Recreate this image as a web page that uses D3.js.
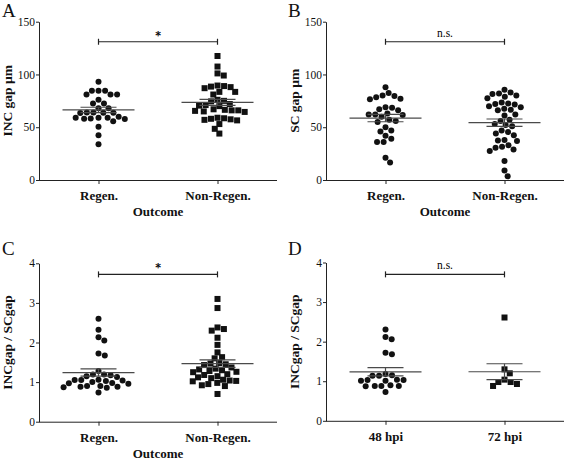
<!DOCTYPE html>
<html>
<head>
<meta charset="utf-8">
<script src="https://cdn.jsdelivr.net/npm/d3@7"></script>
<style>
  html, body { margin: 0; padding: 0; background: #fff; }
  svg { display: block; font-family: "Liberation Serif", "Times New Roman", serif; }
  .sig { font-variant-emoji: text; }
</style>
</head>
<body>
<svg id="chart" width="567" height="461"></svg>
<script>
// ---------- data ----------
const catsOutcome = ["Regen.", "Non-Regen."];
const catsTime = ["48 hpi", "72 hpi"];

const incRegen = [93, 84.6, 84.6, 84.6, 81, 81, 81, 76, 72.5, 72.5, 68, 68,
  64, 63.7, 63.5, 63.7, 64, 59, 59, 58, 57.7, 58.3, 59, 60, 55.6, 50.5, 42.3, 33.8];
const incNonRegen = [117.5, 107.5, 101, 99, 89.5, 89, 88.5, 88, 87, 83.5, 83.5, 81,
  76, 75, 74.5, 72, 71, 70.5, 70, 67, 66.5, 66, 66, 65.5, 65, 64.5,
  59, 58.5, 58, 57.5, 57, 56.5, 53, 48.5, 44];

const scRegen = [88, 82.5, 80, 79.5, 78.5, 77, 76.5, 69, 68.5, 67, 66,
  63, 62, 62, 61.5, 60, 57, 56, 55, 50, 47, 46, 42, 39, 36, 36, 21, 16.5];
const scNonRegen = [85.5, 83, 82, 81.5, 80, 79, 77.5, 73.5, 72.5, 72, 71.5, 70, 69,
  67.5, 66.5, 66, 62, 61, 57, 56, 53, 52, 51, 47, 45.5, 44, 42.5,
  38, 37.5, 37, 33, 31.5, 30.5, 29, 27.5, 18, 9, 3.5];

const ratioRegen = [2.6, 2.32, 2.13, 2.05, 1.72, 1.67, 1.28, 1.19, 1.17, 1.13, 1.15, 1.19,
  1.05, 1.04, 1.0, 0.98, 0.96, 0.97, 1.03, 1.05, 1.06, 0.87, 0.9, 0.86, 0.88, 0.9, 0.88, 0.74];
const ratioNonRegen = [3.1, 2.87, 2.38, 2.34, 2.3, 2.12, 1.94, 1.75, 1.63, 1.6,
  1.48, 1.47, 1.45, 1.43, 1.37, 1.34, 1.32, 1.3, 1.28, 1.26, 1.25,
  1.2, 1.18, 1.15, 1.12, 1.1, 1.06, 1.04, 1.03, 1.02, 0.98, 0.95, 0.92, 0.9, 0.7];

const ratio48 = [2.31, 2.06, 2.12, 1.72, 1.68, 1.14, 1.14, 1.15, 1.18,
  1.03, 1.01, 1.01, 1.03, 1.04, 0.88, 0.88, 0.9, 0.88, 0.87, 0.73];
const ratio72 = [2.61, 1.3, 1.2, 1.04, 0.98, 0.98, 0.88, 0.93];

const ticksGap = [0, 50, 100, 150];
const ticksRatio = [0, 1, 2, 3, 4];
const panelLetters = ["A", "B", "C", "D"];
const yLabels = ["INC gap \u00b5m", "SC gap \u00b5m", "INCgap / SCgap", "INCgap / SCgap"];
const sigLabels = ["*", "n.s.", "*", "n.s."];
const sigLevels = [131, 131, 3.72, 3.7];

// ---------- layout ----------
const FONT = "'Liberation Serif', 'Times New Roman', serif";
const panels = [
  { frame: [39, 277, 21.7, 180], lx: 2, ly: 17, max: 150, ticks: ticksGap, cats: catsOutcome,
    groups: [incRegen, incNonRegen], shapes: ["circle", "square"], xTitle: "Outcome" },
  { frame: [326, 564, 21.7, 180], lx: 288, ly: 17, max: 150, ticks: ticksGap, cats: catsOutcome,
    groups: [scRegen, scNonRegen], shapes: ["circle", "circle"], xTitle: "Outcome" },
  { frame: [39, 277, 263.3, 421.7], lx: 2, ly: 255, max: 4, ticks: ticksRatio, cats: catsOutcome,
    groups: [ratioRegen, ratioNonRegen], shapes: ["circle", "square"], xTitle: "Outcome" },
  { frame: [326, 564, 262.5, 420.8], lx: 288, ly: 255, max: 4, ticks: ticksRatio, cats: catsTime,
    groups: [ratio48, ratio72], shapes: ["circle", "square"], xTitle: null }
];

const svg = d3.select("#chart");
const ink = "#111";
const meanCol = "#4a4a4a";
const D = 6.6; // swarm spacing

function swarm(values, y) {
  const pts = values.map(v => ({ v, py: y(v) })).sort((a, b) => a.py - b.py);
  const placed = [];
  pts.forEach(p => {
    const near = placed.filter(q => Math.abs(q.py - p.py) < D);
    const cands = [0];
    near.forEach(q => {
      const dx = Math.sqrt(D * D - (q.py - p.py) ** 2);
      cands.push(q.dx + dx, q.dx - dx);
    });
    cands.sort((a, b) => Math.abs(a) - Math.abs(b) || b - a);
    for (const c of cands) {
      const ok = near.every(q => Math.hypot(q.dx - c, q.py - p.py) >= D - 1e-6);
      if (ok) { p.dx = c; break; }
    }
    placed.push(p);
  });
  return placed;
}

panels.forEach((P, i) => {
  const [l, r, t, b] = P.frame;
  const g = svg.append("g").attr("font-family", FONT);
  const y = d3.scaleLinear().domain([0, P.max]).range([b, t]);
  const x = d3.scalePoint().domain(P.cats).range([l, r]).padding(0.5);

  // panel letter
  g.append("text").attr("x", P.lx).attr("y", P.ly).attr("font-size", 19)
    .attr("fill", ink).text(panelLetters[i]);

  // y axis
  const ya = g.append("g").attr("transform", `translate(${l},0)`)
    .call(d3.axisLeft(y).tickValues(P.ticks).tickFormat(d3.format("d"))
      .tickSize(3).tickSizeOuter(0).tickPadding(1));
  ya.attr("font-family", FONT).attr("font-size", 11.5);
  ya.selectAll("path,line").attr("stroke", "#222");
  ya.selectAll("text").attr("fill", ink);

  // x axis
  const xa = g.append("g").attr("transform", `translate(0,${b})`)
    .call(d3.axisBottom(x).tickSize(4).tickSizeOuter(0).tickPadding(7));
  xa.attr("font-family", FONT).attr("font-size", 13).attr("font-weight", "bold");
  xa.select(".domain").attr("d", `M${l},0.5H${r}`);
  xa.selectAll("path,line").attr("stroke", "#222");
  xa.selectAll("text").attr("fill", ink);

  // y label
  g.append("text")
    .attr("transform", `translate(${l - 27},${(t + b) / 2}) rotate(-90)`)
    .attr("text-anchor", "middle").attr("font-size", 13.5).attr("font-weight", "bold")
    .attr("fill", ink).text(yLabels[i]);

  // x title
  if (P.xTitle) {
    g.append("text").attr("x", (l + r) / 2).attr("y", b + 36)
      .attr("text-anchor", "middle").attr("font-size", 13).attr("font-weight", "bold")
      .attr("fill", ink).text(P.xTitle);
  }

  // groups
  P.groups.forEach((vals, k) => {
    const cx = x(P.cats[k]);
    const pts = swarm(vals, y);
    const shape = P.shapes[k];
    if (shape === "circle") {
      g.selectAll(null).data(pts).enter().append("circle")
        .attr("cx", d => cx + d.dx).attr("cy", d => d.py).attr("r", 3).attr("fill", ink);
    } else {
      g.selectAll(null).data(pts).enter().append("rect")
        .attr("x", d => cx + d.dx - 3).attr("y", d => d.py - 3)
        .attr("width", 6).attr("height", 6).attr("fill", ink);
    }
    const m = d3.mean(vals);
    const sem = d3.deviation(vals) / Math.sqrt(vals.length);
    const mg = g.append("g").attr("stroke", meanCol).attr("stroke-width", 1.2).attr("fill", "none");
    mg.append("line").attr("x1", cx - 36).attr("x2", cx + 36).attr("y1", y(m)).attr("y2", y(m));
    mg.append("line").attr("x1", cx - 18).attr("x2", cx + 18).attr("y1", y(m + sem)).attr("y2", y(m + sem));
    mg.append("line").attr("x1", cx - 18).attr("x2", cx + 18).attr("y1", y(m - sem)).attr("y2", y(m - sem));
    mg.append("line").attr("x1", cx).attr("x2", cx).attr("y1", y(m + sem)).attr("y2", y(m - sem));
  });

  // significance bar
  const sy = y(sigLevels[i]);
  const x1 = x(P.cats[0]), x2 = x(P.cats[1]);
  const sg = g.append("g").attr("stroke", "#222").attr("stroke-width", 1.2);
  sg.append("line").attr("x1", x1).attr("x2", x2).attr("y1", sy).attr("y2", sy);
  sg.append("line").attr("x1", x1).attr("x2", x1).attr("y1", sy - 3).attr("y2", sy + 3);
  sg.append("line").attr("x1", x2).attr("x2", x2).attr("y1", sy - 3).attr("y2", sy + 3);
  const star = sigLabels[i] === "*";
  g.append("text").attr("class", "sig")
    .attr("x", (x1 + x2) / 2).attr("y", star ? sy - 3 : sy - 5)
    .attr("text-anchor", "middle").attr("font-size", star ? 10.5 : 11.5)
    .attr("font-family", star ? "'DejaVu Serif', serif" : FONT)
    .attr("fill", "#000").attr("stroke", star ? "#000" : "none").attr("stroke-width", star ? 0.25 : 0)
    .text(sigLabels[i]);
});
</script>
</body>
</html>
